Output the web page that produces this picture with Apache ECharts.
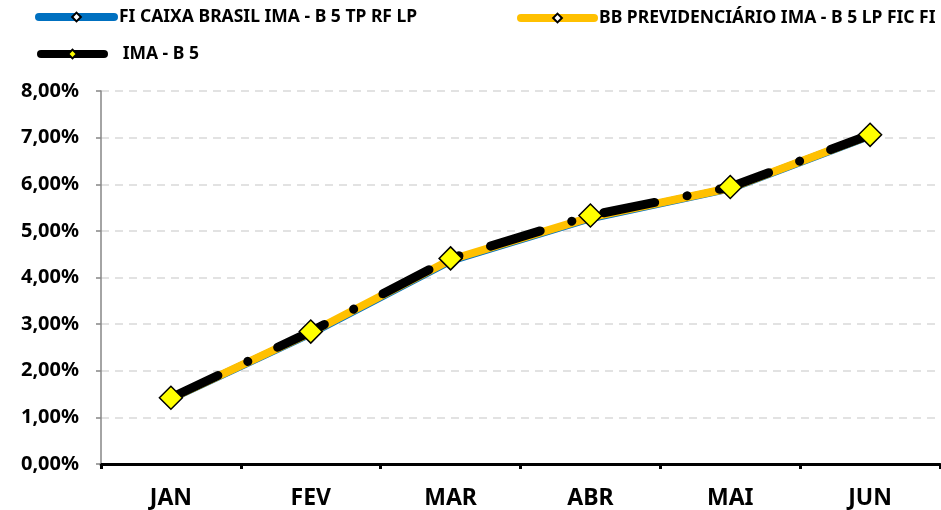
<!DOCTYPE html>
<html>
<head>
<meta charset="utf-8">
<script src="https://cdn.jsdelivr.net/npm/echarts@6/dist/echarts.min.js"></script>
<style>
  html, body { margin: 0; padding: 0; background: #fff; }
  #chart { width: 941px; height: 510px; }
</style>
</head>
<body>
<div id="chart"></div>
<script>
var meses = ["JAN", "FEV", "MAR", "ABR", "MAI", "JUN"];
var caixa = [1.40, 2.80, 4.36, 5.27, 5.91, 7.04];
var bbPrev = [1.41, 2.82, 4.38, 5.29, 5.92, 7.05];
var imaB5 = [1.42, 2.84, 4.41, 5.33, 5.94, 7.06];

var fonte = "'Noto Sans', 'Open Sans', sans-serif";
var nomes = ["FI CAIXA BRASIL IMA - B 5 TP RF LP", "BB PREVIDENCIÁRIO IMA - B 5 LP FIC FI", "IMA - B 5"];

function legenda(nome, left, top, w, prefixo) {
  return {
    data: [{ name: nome, lineStyle: { width: 8, type: "solid", cap: "round" } }],
    left: left,
    top: top,
    itemWidth: w,
    itemHeight: 11,
    formatter: function (n) { return prefixo + n; },
    textStyle: { fontFamily: fonte, fontWeight: "bold", fontSize: 17.5, color: "#000" },
    selectedMode: false
  };
}

var chart = echarts.init(document.getElementById("chart"));
chart.setOption({
  animation: false,
  legend: [
    legenda(nomes[0], 30, 3, 75, ""),
    legenda(nomes[1], 512, 4, 73, ""),
    legenda(nomes[2], 32, 40, 63, "   ")
  ],
  grid: { left: 101, right: 1, top: 91, bottom: 46 },
  xAxis: {
    type: "category",
    data: meses,
    boundaryGap: true,
    axisLine: { lineStyle: { color: "#000", width: 3 } },
    axisTick: { show: true, length: 5, lineStyle: { color: "#000", width: 3 } },
    axisLabel: { margin: 23, fontFamily: fonte, fontWeight: "bold", fontSize: 23, color: "#000" }
  },
  yAxis: {
    type: "value",
    min: 0,
    max: 8,
    interval: 1,
    axisLine: { show: true, lineStyle: { color: "#868686", width: 1.5 } },
    axisTick: { show: true, length: 5, lineStyle: { color: "#868686", width: 1.5 } },
    axisLabel: {
      margin: 22,
      fontFamily: fonte, fontWeight: "bold", fontSize: 20, color: "#000",
      formatter: function (v) { return v.toFixed(2).replace(".", ",") + "%"; }
    },
    splitLine: { lineStyle: { color: "#D9D9D9", type: [8, 6], width: 1.5 } }
  },
  series: [
    {
      name: nomes[0], type: "line", data: caixa,
      symbol: "diamond", symbolSize: 10, showSymbol: false,
      lineStyle: { color: "#0070C0", width: 8 },
      itemStyle: { color: "#fff", borderColor: "#000", borderWidth: 2 },
      z: 2
    },
    {
      name: nomes[1], type: "line", data: bbPrev,
      symbol: "diamond", symbolSize: 10, showSymbol: false,
      lineStyle: { color: "#FFC000", width: 8 },
      itemStyle: { color: "#fff", borderColor: "#000", borderWidth: 2 },
      z: 3
    },
    {
      name: nomes[2], type: "line", data: imaB5,
      symbol: "diamond", symbolSize: 23,
      lineStyle: { color: "#000", width: 9, type: [52, 33, 0.1, 33], cap: "round" },
      itemStyle: { color: "#FFFF00", borderColor: "#000", borderWidth: 1.5 },
      z: 4
    }
  ]
});
</script>
</body>
</html>
